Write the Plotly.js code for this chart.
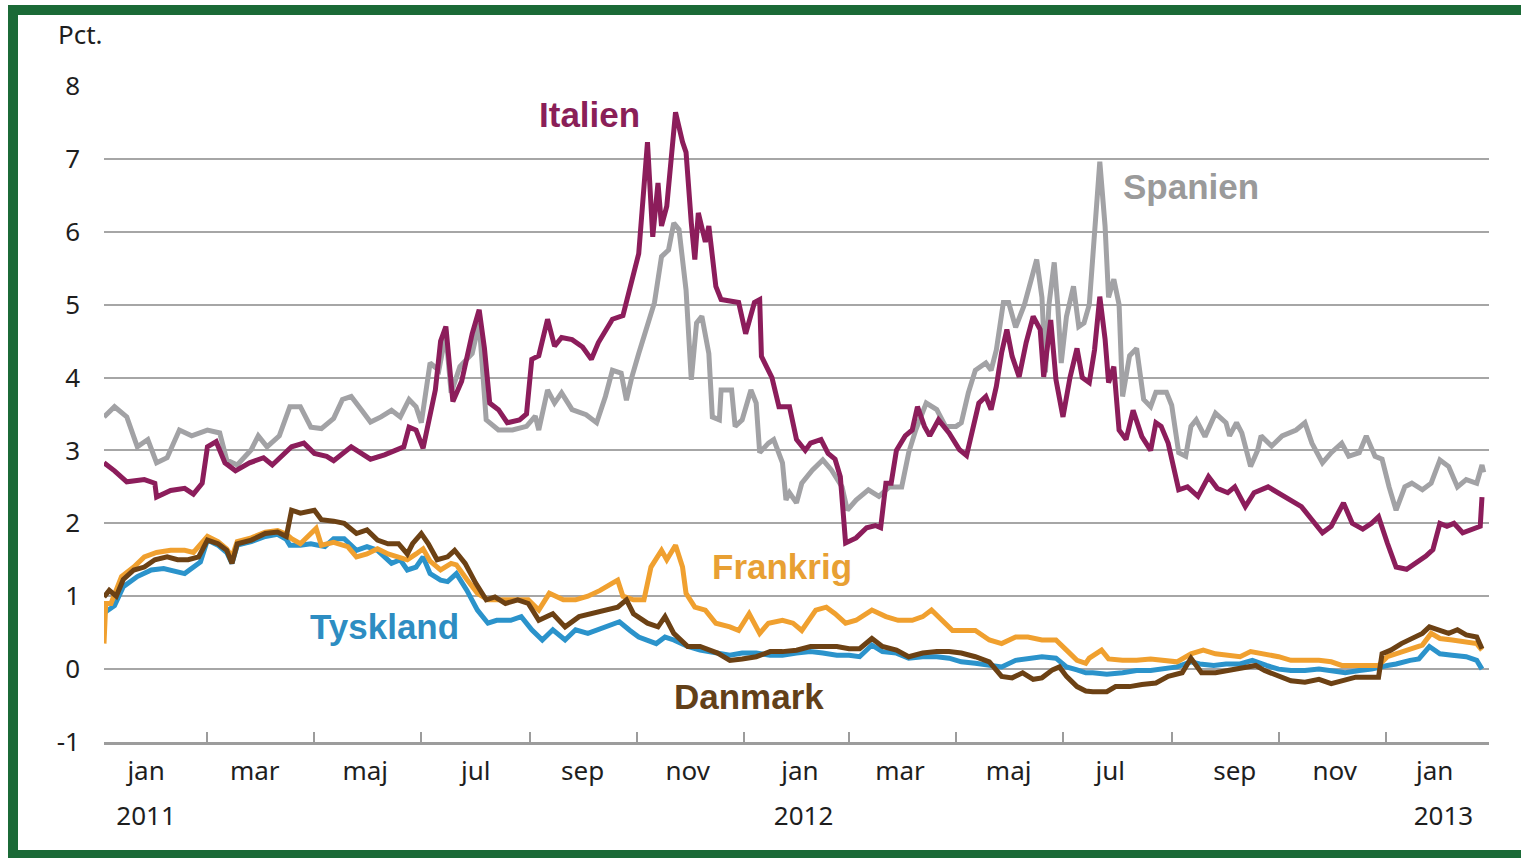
<!DOCTYPE html>
<html>
<head>
<meta charset="utf-8">
<script src="https://cdn.plot.ly/plotly-3.0.1.min.js"></script>
<style>
  html, body { margin: 0; padding: 0; background: #fff; overflow: hidden; }
  #wrap { position: relative; width: 1521px; height: 858px; overflow: hidden; }
  #chart { position: absolute; left: 0; top: 0; width: 1521px; height: 858px; }
  /* green frame round the figure */
  #frame { position: absolute; left: 8px; top: 5px; width: 1540px; height: 855px;
           border: 10px solid #1b6a37; box-sizing: border-box; pointer-events: none; }
</style>
</head>
<body>
<div id="wrap"><div id="chart"></div><div id="frame"></div></div>
<script>
// ---- data (2-year government bond yields, pct.) ----
const seriesNames = ["Italien", "Spanien", "Frankrig", "Tyskland", "Danmark"];
// month labels sit roughly in the middle of each two-month span
const monthTicks = ["2011-01-25","2011-03-28","2011-05-30","2011-08-01","2011-10-01","2011-11-30",
                    "2012-02-02","2012-03-30","2012-05-31","2012-07-28","2012-10-07","2012-12-03","2013-01-29"];
const monthLabels = ["jan","mar","maj","jul","sep","nov","jan","mar","maj","jul","sep","nov","jan"];
const yearTicks = ["2011-01-25", "2012-02-04", "2013-02-03"];
const yearLabels = ["2011", "2012", "2013"];
const yTickVals = [-1, 0, 1, 2, 3, 4, 5, 6, 7, 8];
const yTickText = ["-1", "0", "1", "2", "3", "4", "5", "6", "7", "8"];

const spaDates = [
  "2011-01-01","2011-01-07","2011-01-14","2011-01-20","2011-01-26","2011-01-31","2011-02-06","2011-02-13",
  "2011-02-20","2011-03-01","2011-03-08","2011-03-12","2011-03-18","2011-03-26","2011-03-30","2011-04-04",
  "2011-04-11","2011-04-17","2011-04-23","2011-04-29","2011-05-05","2011-05-12","2011-05-17","2011-05-22",
  "2011-05-28","2011-06-02","2011-06-08","2011-06-14","2011-06-19","2011-06-24","2011-06-28","2011-07-01",
  "2011-07-06","2011-07-11","2011-07-15","2011-07-18","2011-07-23","2011-07-30","2011-08-03","2011-08-07",
  "2011-08-14","2011-08-22","2011-08-30","2011-09-04","2011-09-06","2011-09-11","2011-09-15","2011-09-19",
  "2011-09-25","2011-10-03","2011-10-09","2011-10-14","2011-10-18","2011-10-23","2011-10-26","2011-10-29",
  "2011-11-02","2011-11-06","2011-11-11","2011-11-15","2011-11-19","2011-11-22","2011-11-25","2011-11-29",
  "2011-12-02","2011-12-05","2011-12-08","2011-12-12","2011-12-14","2011-12-18","2011-12-19","2011-12-25",
  "2011-12-27","2011-12-31","2012-01-05","2012-01-08","2012-01-10","2012-01-15","2012-01-18","2012-01-23",
  "2012-01-25","2012-01-27","2012-01-31","2012-02-03","2012-02-09","2012-02-15","2012-02-20","2012-02-26",
  "2012-02-29","2012-03-05","2012-03-12","2012-03-18","2012-03-24","2012-03-31","2012-04-04","2012-04-08",
  "2012-04-14","2012-04-20","2012-04-25","2012-05-01","2012-05-04","2012-05-08","2012-05-12","2012-05-18",
  "2012-05-21","2012-05-24","2012-05-28","2012-05-31","2012-06-04","2012-06-09","2012-06-12","2012-06-16",
  "2012-06-19","2012-06-21","2012-06-23","2012-06-26","2012-06-28","2012-06-30","2012-07-03","2012-07-07",
  "2012-07-10","2012-07-13","2012-07-16","2012-07-19","2012-07-22","2012-07-25","2012-07-27","2012-07-30",
  "2012-08-02","2012-08-04","2012-08-08","2012-08-12","2012-08-16","2012-08-20","2012-08-23","2012-08-29",
  "2012-09-01","2012-09-05","2012-09-09","2012-09-12","2012-09-15","2012-09-20","2012-09-26","2012-10-02",
  "2012-10-04","2012-10-08","2012-10-11","2012-10-16","2012-10-20","2012-10-22","2012-10-28","2012-11-03",
  "2012-11-11","2012-11-16","2012-11-20","2012-11-26","2012-12-01","2012-12-07","2012-12-11","2012-12-17",
  "2012-12-21","2012-12-26","2012-12-30","2013-01-03","2013-01-07","2013-01-12","2013-01-16","2013-01-22",
  "2013-01-27","2013-02-01","2013-02-06","2013-02-11","2013-02-16","2013-02-22","2013-02-25","2013-02-26"];
const spaValues = [
  3.46,3.6,3.46,3.05,3.15,2.83,2.9,3.28,
  3.2,3.28,3.24,2.87,2.8,3.01,3.2,3.05,
  3.2,3.6,3.6,3.32,3.3,3.44,3.7,3.74,
  3.55,3.39,3.46,3.55,3.46,3.7,3.6,3.38,
  4.2,4.1,4.6,3.79,4.15,4.33,4.75,3.42,
  3.28,3.28,3.33,3.47,3.28,3.83,3.65,3.79,
  3.56,3.49,3.38,3.74,4.1,4.06,3.69,4.0,
  4.33,4.65,5.03,5.66,5.75,6.12,6.03,5.2,
  3.97,4.75,4.84,4.33,3.46,3.42,3.83,3.83,
  3.33,3.42,3.83,3.65,2.97,3.1,3.15,2.83,
  2.32,2.42,2.28,2.55,2.73,2.87,2.73,2.5,
  2.18,2.32,2.46,2.37,2.5,2.5,2.97,3.28,
  3.65,3.56,3.33,3.33,3.38,3.79,4.1,4.2,
  4.1,4.38,5.03,5.03,4.69,5.0,5.25,5.62,
  5.1,4.07,5.0,5.58,5.0,4.2,4.84,5.25,
  4.7,4.75,5.0,5.9,6.96,6.08,5.1,5.35,
  5.0,3.74,4.3,4.4,3.7,3.6,3.8,3.8,
  3.62,2.97,2.92,3.33,3.42,3.19,3.51,3.38,
  3.2,3.38,3.24,2.78,3.0,3.2,3.06,3.2,
  3.28,3.38,3.1,2.83,2.97,3.1,2.92,2.97,
  3.2,2.92,2.88,2.5,2.18,2.5,2.55,2.46,
  2.55,2.87,2.78,2.5,2.6,2.55,2.8,2.7];

const itaDates = [
  "2011-01-01","2011-01-07","2011-01-14","2011-01-24","2011-01-30","2011-01-31","2011-02-08","2011-02-16",
  "2011-02-21","2011-02-26","2011-03-01","2011-03-06","2011-03-11","2011-03-17","2011-03-25","2011-04-02",
  "2011-04-07","2011-04-12","2011-04-18","2011-04-25","2011-05-01","2011-05-08","2011-05-12","2011-05-22",
  "2011-05-28","2011-06-02","2011-06-10","2011-06-17","2011-06-21","2011-06-24","2011-06-28","2011-07-02",
  "2011-07-09","2011-07-12","2011-07-15","2011-07-19","2011-07-24","2011-07-30","2011-08-03","2011-08-06",
  "2011-08-09","2011-08-14","2011-08-19","2011-08-26","2011-08-30","2011-09-02","2011-09-06","2011-09-11",
  "2011-09-15","2011-09-19","2011-09-25","2011-10-01","2011-10-06","2011-10-10","2011-10-18","2011-10-24",
  "2011-10-29","2011-11-02","2011-11-07","2011-11-10","2011-11-13","2011-11-15","2011-11-18","2011-11-21",
  "2011-11-23","2011-11-27","2011-11-29","2011-12-02","2011-12-04","2011-12-06","2011-12-10","2011-12-12",
  "2011-12-16","2011-12-19","2011-12-25","2011-12-29","2012-01-02","2012-01-07","2012-01-10","2012-01-11",
  "2012-01-17","2012-01-21","2012-01-27","2012-01-31","2012-02-05","2012-02-08","2012-02-14","2012-02-18",
  "2012-02-22","2012-02-25","2012-02-28","2012-03-05","2012-03-11","2012-03-16","2012-03-19","2012-03-22",
  "2012-03-25","2012-03-28","2012-04-02","2012-04-06","2012-04-09","2012-04-13","2012-04-16","2012-04-21",
  "2012-04-27","2012-05-03","2012-05-07","2012-05-10","2012-05-14","2012-05-18","2012-05-21","2012-05-24",
  "2012-05-27","2012-05-30","2012-06-02","2012-06-06","2012-06-10","2012-06-14","2012-06-18","2012-06-20",
  "2012-06-24","2012-06-27","2012-07-01","2012-07-05","2012-07-09","2012-07-12","2012-07-16","2012-07-19",
  "2012-07-22","2012-07-25","2012-07-27","2012-07-30","2012-08-02","2012-08-06","2012-08-10","2012-08-15",
  "2012-08-20","2012-08-23","2012-08-26","2012-08-30","2012-09-03","2012-09-05","2012-09-10","2012-09-16",
  "2012-09-22","2012-09-27","2012-10-03","2012-10-07","2012-10-13","2012-10-18","2012-10-26","2012-11-01",
  "2012-11-08","2012-11-14","2012-11-20","2012-11-26","2012-12-01","2012-12-08","2012-12-13","2012-12-19",
  "2012-12-24","2012-12-28","2013-01-02","2013-01-07","2013-01-13","2013-01-19","2013-01-24","2013-01-28",
  "2013-02-01","2013-02-05","2013-02-09","2013-02-14","2013-02-20","2013-02-24","2013-02-25"];
const itaValues = [
  2.83,2.72,2.57,2.6,2.55,2.36,2.45,2.48,
  2.4,2.55,3.05,3.12,2.83,2.72,2.83,2.9,
  2.8,2.92,3.05,3.1,2.96,2.92,2.86,3.05,
  2.96,2.88,2.94,3.0,3.05,3.32,3.28,3.03,
  3.83,4.5,4.7,3.67,3.95,4.6,4.93,4.4,
  3.65,3.56,3.38,3.42,3.5,4.25,4.3,4.8,
  4.43,4.55,4.52,4.42,4.25,4.48,4.8,4.85,
  5.35,5.7,7.23,5.93,6.67,6.08,6.35,7.23,
  7.64,7.23,7.09,6.12,5.62,6.26,5.86,6.08,
  5.25,5.07,5.05,5.03,4.6,5.03,5.07,4.29,
  4.0,3.6,3.6,3.15,3.0,3.1,3.15,2.96,
  2.88,2.64,1.73,1.8,1.94,1.97,1.94,2.55,
  2.55,3.0,3.2,3.28,3.6,3.33,3.2,3.42,
  3.24,3.01,2.93,3.24,3.65,3.74,3.56,3.88,
  4.34,4.66,4.29,4.01,4.48,4.84,4.66,4.01,
  4.79,3.97,3.46,4.0,4.4,4.0,3.93,4.38,
  5.11,4.53,3.93,4.15,3.28,3.15,3.55,3.19,
  3.0,3.38,3.33,3.1,2.64,2.46,2.5,2.37,
  2.64,2.48,2.42,2.5,2.23,2.42,2.5,2.42,
  2.32,2.23,2.05,1.87,1.96,2.28,2.0,1.92,
  2.0,2.09,1.73,1.4,1.37,1.46,1.55,1.64,
  2.0,1.96,2.0,1.87,1.92,1.96,2.36];

const fraDates = [
  "2011-01-01","2011-01-02","2011-01-05","2011-01-11","2011-01-18","2011-01-24","2011-01-31","2011-02-08",
  "2011-02-16","2011-02-21","2011-03-01","2011-03-07","2011-03-12","2011-03-15","2011-03-18","2011-03-26",
  "2011-04-03","2011-04-10","2011-04-15","2011-04-18","2011-04-23","2011-05-02","2011-05-05","2011-05-12",
  "2011-05-20","2011-05-25","2011-05-31","2011-06-06","2011-06-12","2011-06-18","2011-06-23","2011-06-28",
  "2011-07-02","2011-07-06","2011-07-12","2011-07-18","2011-07-21","2011-07-27","2011-08-02","2011-08-08",
  "2011-08-16","2011-08-24","2011-08-31","2011-09-06","2011-09-12","2011-09-20","2011-09-27","2011-10-04",
  "2011-10-11","2011-10-18","2011-10-21","2011-10-24","2011-10-30","2011-11-05","2011-11-09","2011-11-15",
  "2011-11-18","2011-11-23","2011-11-27","2011-11-29","2011-12-04","2011-12-10","2011-12-16","2011-12-24",
  "2011-12-29","2012-01-04","2012-01-10","2012-01-15","2012-01-23","2012-01-29","2012-02-03","2012-02-11",
  "2012-02-17","2012-02-22","2012-02-28","2012-03-05","2012-03-14","2012-03-22","2012-03-29","2012-04-06",
  "2012-04-12","2012-04-17","2012-04-23","2012-04-29","2012-05-04","2012-05-12","2012-05-20","2012-05-27",
  "2012-06-04","2012-06-11","2012-06-19","2012-06-27","2012-07-03","2012-07-09","2012-07-14","2012-07-16",
  "2012-07-23","2012-07-27","2012-08-04","2012-08-12","2012-08-20","2012-08-27","2012-09-04","2012-09-12",
  "2012-09-19","2012-09-26","2012-10-03","2012-10-10","2012-10-16","2012-10-24","2012-11-01","2012-11-08",
  "2012-11-16","2012-11-24","2012-12-01","2012-12-07","2012-12-15","2012-12-22","2012-12-28","2013-01-02",
  "2013-01-07","2013-01-13","2013-01-19","2013-01-22","2013-01-27","2013-02-01","2013-02-08","2013-02-16",
  "2013-02-22","2013-02-25"];
const fraValues = [
  0.35,0.9,0.9,1.27,1.4,1.54,1.6,1.63,
  1.63,1.6,1.82,1.75,1.65,1.54,1.75,1.8,
  1.88,1.9,1.85,1.79,1.72,1.93,1.7,1.74,
  1.68,1.54,1.58,1.65,1.58,1.54,1.5,1.58,
  1.65,1.48,1.36,1.45,1.43,1.23,1.04,0.95,
  0.95,0.95,0.95,0.81,1.04,0.95,0.95,1.0,
  1.08,1.18,1.22,1.0,0.95,0.95,1.4,1.63,
  1.5,1.7,1.4,1.04,0.85,0.81,0.63,0.58,
  0.53,0.76,0.49,0.63,0.67,0.63,0.53,0.81,
  0.85,0.76,0.63,0.67,0.81,0.72,0.67,0.67,
  0.72,0.81,0.67,0.53,0.53,0.53,0.4,0.35,
  0.44,0.44,0.4,0.4,0.26,0.12,0.08,0.15,
  0.26,0.14,0.12,0.12,0.14,0.12,0.1,0.21,
  0.26,0.21,0.19,0.17,0.24,0.21,0.17,0.12,
  0.12,0.12,0.1,0.05,0.05,0.05,0.05,0.17,
  0.21,0.26,0.31,0.33,0.49,0.42,0.4,0.38,
  0.35,0.26];

const tysDates = [
  "2011-01-01","2011-01-07","2011-01-12","2011-01-20","2011-01-28","2011-02-04","2011-02-16","2011-02-21",
  "2011-02-25","2011-03-01","2011-03-07","2011-03-12","2011-03-15","2011-03-18","2011-03-26","2011-04-03",
  "2011-04-10","2011-04-15","2011-04-17","2011-04-23","2011-04-29","2011-05-07","2011-05-12","2011-05-18",
  "2011-05-25","2011-05-31","2011-06-06","2011-06-14","2011-06-19","2011-06-23","2011-06-28","2011-07-02",
  "2011-07-06","2011-07-12","2011-07-16","2011-07-21","2011-07-27","2011-08-02","2011-08-08","2011-08-13",
  "2011-08-21","2011-08-27","2011-09-02","2011-09-08","2011-09-14","2011-09-21","2011-09-27","2011-10-04",
  "2011-10-15","2011-10-22","2011-10-28","2011-11-02","2011-11-12","2011-11-17","2011-11-22","2011-11-30",
  "2011-12-07","2011-12-17","2011-12-24","2011-12-31","2012-01-08","2012-01-16","2012-01-23","2012-01-31",
  "2012-02-08","2012-02-15","2012-02-23","2012-03-01","2012-03-07","2012-03-14","2012-03-20","2012-03-28",
  "2012-04-04","2012-04-12","2012-04-20","2012-04-27","2012-05-04","2012-05-12","2012-05-20","2012-05-27",
  "2012-06-04","2012-06-11","2012-06-19","2012-06-27","2012-07-03","2012-07-09","2012-07-14","2012-07-18",
  "2012-07-26","2012-08-04","2012-08-12","2012-08-20","2012-08-27","2012-09-04","2012-09-12","2012-09-17",
  "2012-09-25","2012-10-02","2012-10-10","2012-10-17","2012-10-25","2012-11-01","2012-11-08","2012-11-16",
  "2012-11-24","2012-12-01","2012-12-09","2012-12-17","2012-12-24","2013-01-02","2013-01-07","2013-01-15",
  "2013-01-20","2013-01-26","2013-02-01","2013-02-08","2013-02-16","2013-02-22","2013-02-25"];
const tysValues = [
  0.77,0.87,1.13,1.27,1.36,1.38,1.31,1.4,
  1.47,1.77,1.7,1.6,1.45,1.7,1.75,1.82,
  1.85,1.78,1.7,1.7,1.72,1.68,1.79,1.79,
  1.63,1.68,1.63,1.45,1.5,1.36,1.4,1.54,
  1.31,1.22,1.2,1.31,1.08,0.81,0.63,0.67,
  0.67,0.72,0.54,0.4,0.54,0.4,0.54,0.49,
  0.58,0.65,0.53,0.44,0.35,0.44,0.4,0.31,
  0.26,0.22,0.19,0.22,0.22,0.19,0.19,0.22,
  0.24,0.22,0.19,0.19,0.17,0.33,0.24,0.22,
  0.15,0.17,0.17,0.15,0.1,0.08,0.05,0.03,
  0.12,0.15,0.17,0.15,0.03,-0.01,-0.05,-0.05,
  -0.07,-0.05,-0.02,-0.02,0.0,0.03,0.1,0.07,
  0.05,0.07,0.07,0.12,0.05,0.0,-0.02,-0.02,
  0.0,-0.02,-0.05,-0.02,0.0,0.05,0.07,0.12,
  0.14,0.31,0.21,0.19,0.17,0.12,0.0];

const danDates = [
  "2011-01-01","2011-01-04","2011-01-08","2011-01-12","2011-01-18","2011-01-24","2011-01-30","2011-02-06",
  "2011-02-12","2011-02-18","2011-02-24","2011-03-01","2011-03-07","2011-03-12","2011-03-15","2011-03-18",
  "2011-03-26","2011-04-03","2011-04-10","2011-04-15","2011-04-18","2011-04-23","2011-05-01","2011-05-05",
  "2011-05-12","2011-05-18","2011-05-25","2011-05-31","2011-06-06","2011-06-12","2011-06-18","2011-06-23",
  "2011-06-26","2011-07-01","2011-07-05","2011-07-10","2011-07-16","2011-07-20","2011-07-26","2011-08-01",
  "2011-08-07","2011-08-12","2011-08-18","2011-08-25","2011-08-31","2011-09-06","2011-09-14","2011-09-21",
  "2011-09-29","2011-10-06","2011-10-15","2011-10-21","2011-10-26","2011-10-30","2011-11-07","2011-11-13",
  "2011-11-17","2011-11-22","2011-11-30","2011-12-07","2011-12-17","2011-12-24","2011-12-31","2012-01-08",
  "2012-01-16","2012-01-23","2012-01-31","2012-02-08","2012-02-15","2012-02-23","2012-03-01","2012-03-07",
  "2012-03-14","2012-03-20","2012-03-28","2012-04-04","2012-04-12","2012-04-20","2012-04-27","2012-05-04",
  "2012-05-12","2012-05-20","2012-05-27","2012-06-02","2012-06-08","2012-06-14","2012-06-19","2012-06-25",
  "2012-06-29","2012-07-03","2012-07-09","2012-07-14","2012-07-18","2012-07-26","2012-07-31","2012-08-08",
  "2012-08-15","2012-08-23","2012-08-30","2012-09-07","2012-09-12","2012-09-18","2012-09-26","2012-10-03",
  "2012-10-11","2012-10-19","2012-10-24","2012-11-01","2012-11-08","2012-11-16","2012-11-24","2012-12-01",
  "2012-12-07","2012-12-15","2012-12-22","2012-12-28","2012-12-30","2013-01-04","2013-01-10","2013-01-16",
  "2013-01-22","2013-01-26","2013-02-01","2013-02-06","2013-02-11","2013-02-16","2013-02-22","2013-02-25"];
const danValues = [
  0.99,1.08,1.0,1.23,1.36,1.4,1.5,1.54,
  1.5,1.5,1.54,1.77,1.72,1.63,1.45,1.72,
  1.77,1.86,1.88,1.82,2.18,2.14,2.18,2.05,
  2.03,2.0,1.86,1.91,1.77,1.72,1.72,1.58,
  1.72,1.86,1.72,1.5,1.54,1.63,1.45,1.18,
  0.95,0.99,0.9,0.95,0.9,0.67,0.76,0.58,
  0.72,0.76,0.81,0.85,0.95,0.76,0.63,0.58,
  0.72,0.49,0.31,0.31,0.22,0.12,0.14,0.17,
  0.24,0.24,0.26,0.31,0.31,0.31,0.28,0.28,
  0.42,0.31,0.26,0.17,0.22,0.24,0.24,0.22,
  0.17,0.1,-0.1,-0.12,-0.05,-0.14,-0.12,-0.01,
  0.03,-0.1,-0.24,-0.3,-0.31,-0.31,-0.24,-0.24,
  -0.21,-0.19,-0.1,-0.05,0.15,-0.05,-0.05,-0.02,
  0.03,0.05,-0.02,-0.09,-0.16,-0.18,-0.14,-0.2,
  -0.16,-0.11,-0.11,-0.11,0.21,0.26,0.35,0.42,
  0.49,0.58,0.54,0.49,0.54,0.47,0.44,0.28];

// ---- styling ----
const FONT = "Noto Sans, Open Sans, sans-serif";
const LABEL_FONT = "Liberation Sans, Arial, sans-serif";
const GRID = "#a6a6a6";
const AXIS = "#9c9c9c";
const colours = {
  Italien: "#8c1d5b", Spanien: "#a2a2a5", Frankrig: "#f0a02f",
  Tyskland: "#2b93cb", Danmark: "#6c4114"
};
const textColours = {
  Italien: "#8a1f58", Spanien: "#9a9a9a", Frankrig: "#e8a033",
  Tyskland: "#2d8dc2", Danmark: "#624019"
};
const tickFont = { family: FONT, size: 26, color: "#1e1e1e" };

function line(name, x, y) {
  return { x: x, y: y, type: "scatter", mode: "lines", name: name,
           line: { color: colours[name], width: 5, shape: "linear" },
           hoverinfo: "skip", showlegend: false };
}
// draw order: grey and purple underneath, brown on top
const traces = [
  line("Spanien", spaDates, spaValues),
  line("Italien", itaDates, itaValues),
  line("Tyskland", tysDates, tysValues),
  line("Frankrig", fraDates, fraValues),
  line("Danmark", danDates, danValues)
];
// empty traces keep the two label axes alive
traces.push({ x: [monthTicks[0]], y: [null], xaxis: "x2", yaxis: "y", type: "scatter",
              mode: "lines", hoverinfo: "skip", showlegend: false });
traces.push({ x: [yearTicks[0]], y: [null], xaxis: "x3", yaxis: "y", type: "scatter",
              mode: "lines", hoverinfo: "skip", showlegend: false });

function seriesLabel(name, x, y) {
  return { text: name, x: x, y: y, xref: "x", yref: "y", showarrow: false,
           xanchor: "center", yanchor: "middle",
           font: { family: LABEL_FONT, size: 35, weight: "bold", color: textColours[name] } };
}

const xRange = ["2011-01-01", "2013-03-01"];
const layout = {
  width: 1521, height: 858,
  margin: { l: 104, r: 32, t: 86, b: 116 },
  paper_bgcolor: "#fff", plot_bgcolor: "#fff",
  showlegend: false,
  font: tickFont,
  // tick marks at every second month boundary, no labels
  xaxis: {
    type: "date", range: xRange,
    tickmode: "linear", tick0: "2011-01-01", dtick: "M2",
    ticks: "inside", ticklen: 10, tickwidth: 2, tickcolor: AXIS,
    showline: true, linecolor: AXIS, linewidth: 3,
    showgrid: false, zeroline: false, showticklabels: false
  },
  // month names
  xaxis2: {
    type: "date", overlaying: "x", matches: "x", anchor: "y",
    tickmode: "array", tickvals: monthTicks, ticktext: monthLabels,
    ticks: "", showline: false, showgrid: false, zeroline: false,
    ticklabelstandoff: 11, tickfont: tickFont
  },
  // years
  xaxis3: {
    type: "date", overlaying: "x", matches: "x", anchor: "y",
    tickmode: "array", tickvals: yearTicks, ticktext: yearLabels,
    ticks: "", showline: false, showgrid: false, zeroline: false,
    ticklabelstandoff: 56, tickfont: tickFont
  },
  yaxis: {
    range: [-1, 8], tickmode: "array", tickvals: yTickVals, ticktext: yTickText,
    showgrid: true, gridcolor: GRID, gridwidth: 2,
    zeroline: false, showline: false, ticks: "",
    ticklabelstandoff: 23, tickfont: tickFont
  },
  annotations: [
    { text: "Pct.", xref: "paper", yref: "paper", x: -0.035, y: 1.079,
      xanchor: "left", yanchor: "middle", showarrow: false, font: tickFont },
    seriesLabel("Italien", "2011-10-05", 7.61),
    seriesLabel("Spanien", "2012-09-12", 6.62),
    seriesLabel("Frankrig", "2012-01-23", 1.41),
    seriesLabel("Tyskland", "2011-06-10", 0.59),
    seriesLabel("Danmark", "2012-01-04", -0.38)
  ]
};

Plotly.newPlot("chart", traces, layout, { displayModeBar: false, staticPlot: true });
</script>
</body>
</html>
